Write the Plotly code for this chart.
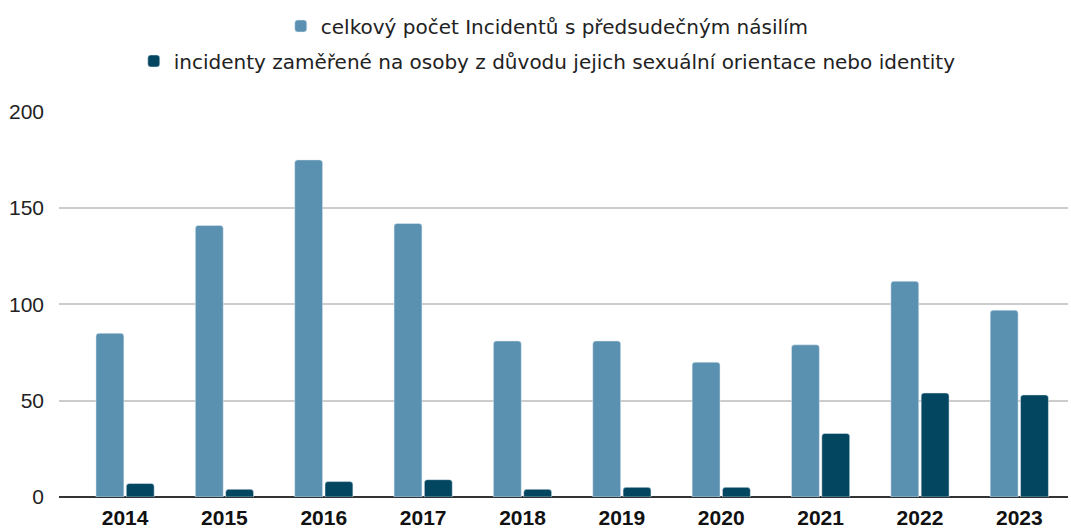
import plotly.graph_objects as go

years = ["2014", "2015", "2016", "2017", "2018", "2019", "2020", "2021", "2022", "2023"]
total_incidents = [85, 141, 175, 142, 81, 81, 70, 79, 112, 97]
lgbt_incidents = [7, 4, 8, 9, 4, 5, 5, 33, 54, 53]
name_total = "celkový počet Incidentů s předsudečným násilím"
name_lgbt = "incidenty zaměřené na osoby z důvodu jejich sexuální orientace nebo identity"

fig = go.Figure()
fig.add_trace(go.Bar(x=years, y=total_incidents, name=name_total,
                     marker=dict(color="#5a91b0", cornerradius=3), legend="legend"))
fig.add_trace(go.Bar(x=years, y=lgbt_incidents, name=name_lgbt,
                     marker=dict(color="#03465f", cornerradius=3), legend="legend2"))

font_family = "Liberation Sans, Arial, sans-serif"
legend_font = dict(family="DejaVu Sans, sans-serif", size=20, color="#222222")
fig.update_layout(
    width=1071, height=530,
    margin=dict(l=59, r=3, t=111, b=33, autoexpand=False),
    paper_bgcolor="white", plot_bgcolor="white",
    barmode="group", bargap=0.39, bargroupgap=0.08,
    font=dict(family=font_family, size=21, color="#222222"),
    showlegend=True,
    legend=dict(orientation="h", xref="container", yref="container",
                x=0.511, xanchor="center", y=1 - 26 / 530, yanchor="middle",
                font=legend_font, itemwidth=30),
    legend2=dict(orientation="h", xref="container", yref="container",
                 x=0.511, xanchor="center", y=1 - 61 / 530, yanchor="middle",
                 font=legend_font, itemwidth=30),
    xaxis=dict(type="category", range=[-0.665, 9.49], showgrid=False, automargin=False,
               tickfont=dict(size=21, color="#111111", family=font_family, weight="bold"),
               ticks="", showline=False, zeroline=False, ticklabelstandoff=6),
    yaxis=dict(range=[0, 200.4], tickvals=[0, 50, 100, 150, 200], showgrid=True,
               gridcolor="#cccccc", gridwidth=1.5, zeroline=True, zerolinecolor="#333333",
               zerolinewidth=2, tickfont=dict(size=21, color="#222222"), ticks="",
               ticklabelstandoff=14, showline=False, automargin=False),
)

fig.write_html(
    "out.html",
    config={"displayModeBar": False},
    post_script="document.body.style.margin='0';document.body.style.overflow='hidden';",
)
